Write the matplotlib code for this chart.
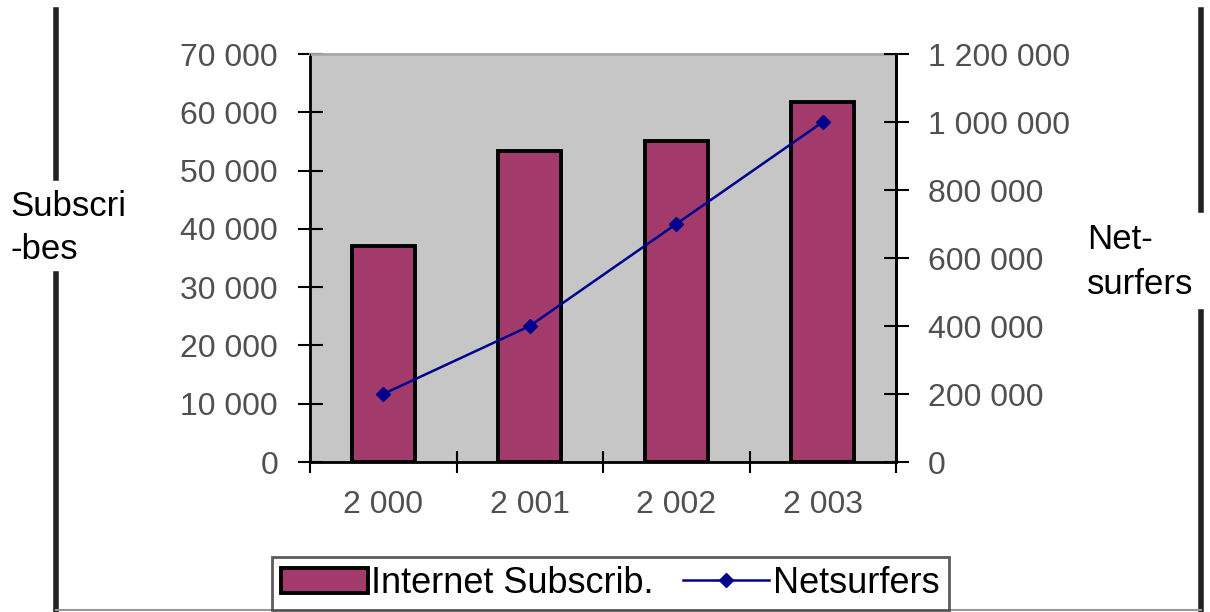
import numpy as np
import matplotlib
matplotlib.use('Agg')
import matplotlib.pyplot as plt
from matplotlib.lines import Line2D
from matplotlib.ticker import FuncFormatter, FixedLocator

plt.rcParams['font.family'] = ['Liberation Sans', 'DejaVu Sans']

years = ['2 000', '2 001', '2 002', '2 003']
subscribers = [37000, 53300, 55000, 61700]
netsurfers = [200000, 400000, 700000, 1000000]

bar_col = '#a23a6b'
line_col = '#00008f'
txt_col = '#505050'

def spaced(v, pos):
    return '{:,}'.format(int(v)).replace(',', ' ')

fig = plt.figure(figsize=(12.1, 6.12), dpi=100)
ax = fig.add_axes([310/1210, 150/612, 586/1210, 408/612])
ax.set_facecolor('#c6c6c6')

x = np.arange(len(years))
ax.bar(x, subscribers, width=0.43, color=bar_col, edgecolor='black',
       linewidth=2.8, label='Internet Subscrib.', zorder=2)
ax.set_xlim(-0.5, len(years) - 0.5)
ax.set_ylim(0, 70000)
ax.yaxis.set_major_locator(FixedLocator(np.arange(0, 70001, 10000)))
ax.yaxis.set_major_formatter(FuncFormatter(spaced))
ax.set_xticks(x)
ax.set_xticklabels(years)
ax.set_xticks(np.arange(-0.5, len(years), 1.0), minor=True)
ax.tick_params(axis='x', which='major', length=0, pad=20, labelsize=23, labelcolor=txt_col)
ax.tick_params(axis='x', which='minor', direction='inout', length=16, width=1.5)
ax.tick_params(axis='y', direction='inout', length=18, width=1.5, pad=14,
               labelsize=23, labelcolor=txt_col)
for s in ['left', 'bottom', 'right']:
    ax.spines[s].set_linewidth(2)
ax.spines['top'].set_color('#a8a8a8')
ax.spines['top'].set_linewidth(2)

ax2 = ax.twinx()
ax2.plot(x, netsurfers, color=line_col, linewidth=1.8, marker='D',
         markersize=7, label='Netsurfers', zorder=3)
ax2.set_ylim(0, 1200000)
ax2.yaxis.set_major_locator(FixedLocator(np.arange(0, 1200001, 200000)))
ax2.yaxis.set_major_formatter(FuncFormatter(spaced))
ax2.tick_params(axis='y', direction='inout', length=18, width=1.5, pad=14,
                labelsize=23, labelcolor=txt_col)
ax2.spines['right'].set_linewidth(2)
ax2.spines['top'].set_visible(False)

fig.text(10/1210, 1 - 228/612, 'Subscri\n-bes', fontsize=25, ha='left',
         va='center', linespacing=1.35)
fig.text(1087/1210, 1 - 262/612, 'Net-\nsurfers', fontsize=25, ha='left',
         va='center', linespacing=1.45)

# border lines around the picture
for seg in [((56, 56), (10, 178)), ((56, 56), (274, 612)),
            ((1201, 1201), (10, 210)), ((1201, 1201), (312, 612))]:
    fig.add_artist(Line2D(np.array(seg[0]) / 1210, 1 - np.array(seg[1]) / 612,
                          color='#222222', linewidth=4))
fig.add_artist(Line2D([56/1210, 1201/1210], [1 - 610/612, 1 - 610/612],
                      color='#999999', linewidth=1.5))

h1, l1 = ax.get_legend_handles_labels()
h2, l2 = ax2.get_legend_handles_labels()
leg = fig.legend(h1 + h2, l1 + l2, loc='lower left', ncol=2,
                 bbox_to_anchor=(272/1210, 2/612),
                 fontsize=26, frameon=True, fancybox=False, borderaxespad=0,
                 borderpad=0.25, handlelength=2.4, handletextpad=0.1,
                 columnspacing=0.8)
leg.get_frame().set_edgecolor('#333333')
leg.get_frame().set_linewidth(2)

fig.savefig('out.png', dpi=100)
